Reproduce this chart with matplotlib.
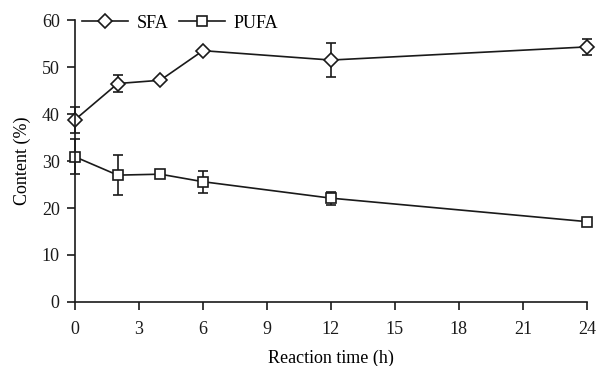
import numpy as np
import matplotlib.pyplot as plt
from matplotlib.lines import Line2D

plt.rcParams['font.family'] = ['Liberation Serif', 'DejaVu Serif']

# Данные
hours = [0, 2, 4, 6, 12, 24]
sfa = [38.8, 46.5, 47.2, 53.5, 51.5, 54.3]
sfa_err = [2.8, 1.9, 0.0, 0.0, 3.6, 1.7]
pufa = [30.9, 27.0, 27.2, 25.6, 22.1, 17.1]
pufa_err = [3.7, 4.3, 0.0, 2.3, 1.4, 0.0]

x_ticks = [0, 3, 6, 9, 12, 15, 18, 21, 24]
y_ticks = [0, 10, 20, 30, 40, 50, 60]

ink = '#1a1a1a'
fig = plt.figure(figsize=(6, 3.66), dpi=100)
ax = fig.add_axes([0.125, 0.175, 0.853, 0.77])

style = dict(color=ink, lw=1.2, mfc='white', mec=ink, mew=1.2,
             ecolor=ink, elinewidth=1.2, capsize=3.5, capthick=1.2, clip_on=False)
ax.errorbar(hours, sfa, yerr=sfa_err, marker='D', ms=7, **style)
ax.errorbar(hours, pufa, yerr=pufa_err, marker='s', ms=7.5, **style)

ax.set_xlim(0, 24)
ax.set_ylim(0, 60)
ax.set_xticks(x_ticks)
ax.set_yticks(y_ticks)
ax.tick_params(direction='out', length=6, width=1.2, pad=5, labelsize=13, colors=ink)
ax.tick_params(axis='x', pad=8)
for s in ['top', 'right']:
    ax.spines[s].set_visible(False)
for s in ['left', 'bottom']:
    ax.spines[s].set_linewidth(1.2)
    ax.spines[s].set_color(ink)

ax.set_xlabel('Reaction time (h)', fontsize=13, labelpad=8)
ax.set_ylabel('Content (%)', fontsize=13, labelpad=8)

# Легенда без планок погрешностей
handles = [
    Line2D([], [], color=ink, lw=1.2, marker='D', ms=7, mfc='white', mec=ink, mew=1.2),
    Line2D([], [], color=ink, lw=1.2, marker='s', ms=7.5, mfc='white', mec=ink, mew=1.2),
]
fig.legend(handles, ['SFA', 'PUFA'], loc='center left', bbox_to_anchor=(0.137, 0.937),
           bbox_transform=fig.transFigure, ncol=2, frameon=False, fontsize=13,
           handlelength=2.55, columnspacing=0.6, handletextpad=0.45,
           borderpad=0, borderaxespad=0)

fig.savefig('out.png', dpi=100)
